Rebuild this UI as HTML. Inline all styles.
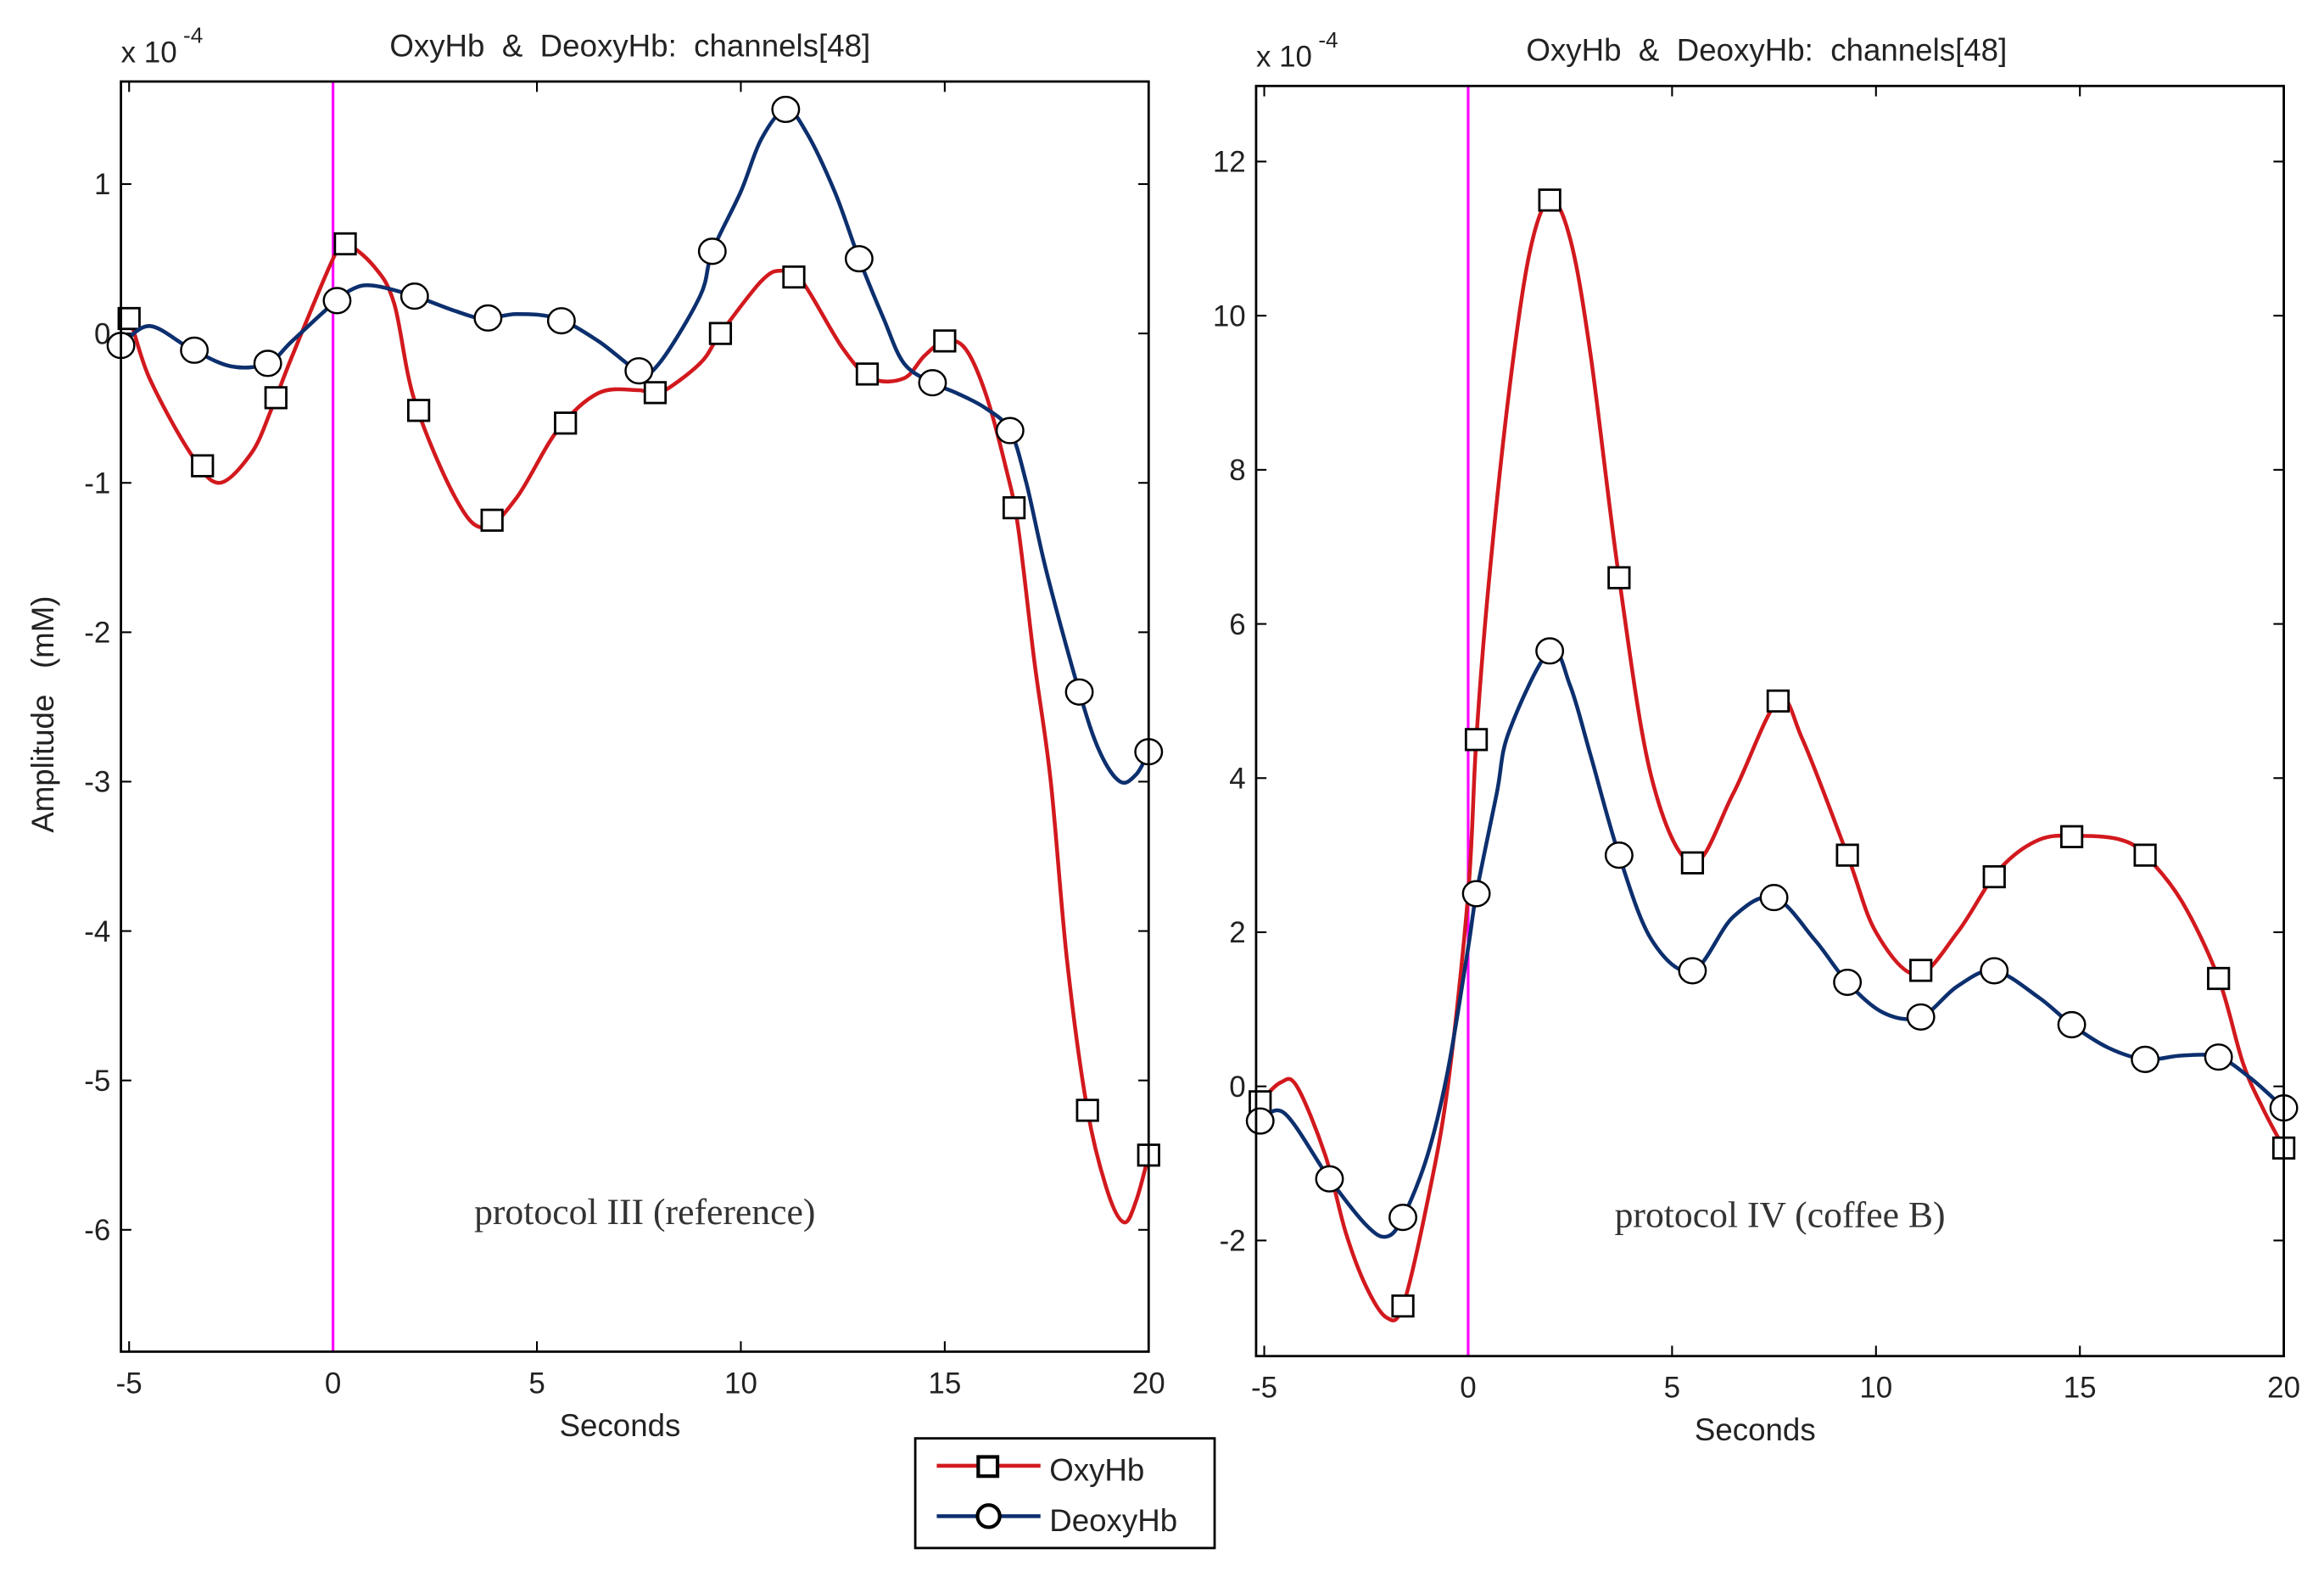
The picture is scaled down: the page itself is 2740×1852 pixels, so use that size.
<!DOCTYPE html>
<html><head><meta charset="utf-8"><style>
html,body{margin:0;padding:0;background:#fff;}
svg{display:block;}
text{font-family:"Liberation Sans",sans-serif;fill:#222;}
.pre{white-space:pre;}
</style></head><body>
<svg id="fig" width="2740" height="1852" viewBox="0 0 1568 1060" xmlns="http://www.w3.org/2000/svg">
<rect width="1568" height="1060" fill="#fff"/>
</svg>
<script>
// ---- data ----
const xTicks = [-5, 0, 5, 10, 15, 20];
const leftYTicks = [1, 0, -1, -2, -3, -4, -5, -6];
const rightYTicks = [12, 10, 8, 6, 4, 2, 0, -2];

const leftOxyX = [-5.2,-5,-4.5,-3.5,-2.8,-2,-1.5,-1,0,0.3,1,1.5,2,3,3.7,4.5,5.5,6.5,7.5,8,9,9.5,10.5,11,11.5,12.5,13.2,14,14.5,15,15.5,16,16.5,16.8,17.2,17.6,18,18.5,19,19.4,19.7,20];
const leftOxyY = [0.05,0.1,-0.3,-0.8,-1.0,-0.8,-0.5,-0.15,0.5,0.6,0.45,0.2,-0.45,-1.1,-1.3,-1.1,-0.65,-0.4,-0.38,-0.4,-0.2,0.0,0.35,0.42,0.35,-0.1,-0.3,-0.3,-0.15,-0.05,-0.1,-0.4,-0.9,-1.3,-2.2,-3.0,-4.2,-5.2,-5.75,-5.95,-5.8,-5.5];
const leftOxyMarkX = [-5,-3.2,-1.4,0.3,2.1,3.9,5.7,7.9,9.5,11.3,13.1,15,16.7,18.5,20];

const leftDeoX = [-5.2,-4.5,-3.5,-2.5,-1.6,-1,0,0.5,1,2,3,3.7,4.5,5.5,6.5,7.5,8,9,9.3,10,10.5,11.1,11.6,12.3,12.9,13.5,14,14.7,15.3,16,16.6,17,17.5,18.3,18.8,19.3,19.7,20];
const leftDeoY = [-0.08,0.05,-0.1,-0.22,-0.2,-0.05,0.2,0.3,0.32,0.25,0.15,0.1,0.13,0.1,-0.05,-0.25,-0.2,0.25,0.55,0.95,1.3,1.5,1.35,0.95,0.5,0.1,-0.2,-0.33,-0.4,-0.5,-0.65,-1.0,-1.6,-2.4,-2.8,-3.0,-2.95,-2.8];
const leftDeoMarkX = [-5.2,-3.4,-1.6,0.1,2,3.8,5.6,7.5,9.3,11.1,12.9,14.7,16.6,18.3,20];

const rightOxyX = [-5.1,-4.6,-4.2,-3.5,-3,-2.5,-2,-1.6,-1,-0.5,0,0.2,0.5,1,1.5,2,2.5,3,3.7,4.5,5.5,6.5,7.6,8.2,9.3,10,11,12,13,14,15,16,16.6,17.5,18.4,19,19.5,20];
const rightOxyY = [-0.2,0.05,0.0,-0.9,-1.9,-2.6,-3.0,-2.85,-1.5,0.0,2.5,4.5,6.5,9,10.8,11.5,11.0,9.5,6.6,4.0,2.9,3.8,5.0,4.5,3.0,2.0,1.45,2.0,2.8,3.2,3.25,3.2,3.0,2.4,1.4,0.3,-0.3,-0.8];
const rightOxyMarkX = [-5.1,-1.6,0.2,2,3.7,5.5,7.6,9.3,11.1,12.9,14.8,16.6,18.4,20];

const rightDeoX = [-5.1,-4.5,-3.4,-2.5,-2,-1.6,-1,-0.5,0,0.2,0.7,1,2,2.5,3,3.7,4.5,5.5,6.5,7.5,8.5,9.3,10.2,11.1,12,12.9,14,14.8,15.7,16.6,17.5,18.4,19.2,20];
const rightDeoY = [-0.45,-0.35,-1.2,-1.8,-1.95,-1.7,-0.9,0.2,1.8,2.5,3.8,4.6,5.65,5.2,4.3,3.0,1.9,1.5,2.2,2.45,1.9,1.35,0.95,0.9,1.3,1.5,1.15,0.8,0.5,0.35,0.4,0.38,0.1,-0.28];
const rightDeoMarkX = [-5.1,-3.4,-1.6,0.2,2,3.7,5.5,7.5,9.3,11.1,12.9,14.8,16.6,18.4,20];

// ---- drawing ----
const NS = "http://www.w3.org/2000/svg";
const svg = document.getElementById('fig');
function mk(tag, attrs, parent, txt){
  const e = document.createElementNS(NS, tag);
  for (const k in attrs) e.setAttribute(k, attrs[k]);
  if (txt !== undefined) e.textContent = txt;
  (parent||svg).appendChild(e);
  return e;
}
function interp(xs, ys, x){
  if (x <= xs[0]) return ys[0];
  for (let i=1;i<xs.length;i++){ if (x<=xs[i]){ const t=(x-xs[i-1])/(xs[i]-xs[i-1]); return ys[i-1]+t*(ys[i]-ys[i-1]); } }
  return ys[ys.length-1];
}
function smoothPath(pts){
  let d = 'M'+pts[0][0]+','+pts[0][1];
  for (let i=0;i<pts.length-1;i++){
    const p0=pts[Math.max(0,i-1)], p1=pts[i], p2=pts[i+1], p3=pts[Math.min(pts.length-1,i+2)];
    const c1=[p1[0]+(p2[0]-p0[0])/6, p1[1]+(p2[1]-p0[1])/6];
    const c2=[p2[0]-(p3[0]-p1[0])/6, p2[1]-(p3[1]-p1[1])/6];
    d += ' C'+c1[0].toFixed(2)+','+c1[1].toFixed(2)+' '+c2[0].toFixed(2)+','+c2[1].toFixed(2)+' '+p2[0].toFixed(2)+','+p2[1].toFixed(2);
  }
  return d;
}

function panel(cfg){
  const g = mk('g', {});
  
  
  const sx = v => cfg.x0 + (v - (-5)) * (cfg.x20 - cfg.x0) / 25;
  const sy = v => cfg.yZero - v * cfg.yUnit;
  const L = sx(cfg.xmin), R = sx(20), T = cfg.top, B = cfg.bottom;
  xTicks.forEach(t => {
    const x = sx(t);
    mk('line', {x1:x,y1:T,x2:x,y2:T+7,stroke:'#000','stroke-width':1.2}, g);
    mk('line', {x1:x,y1:B,x2:x,y2:B-7,stroke:'#000','stroke-width':1.2}, g);
    const lb = mk('text', {x:x, y:B+28, 'font-size':20, 'text-anchor':'middle'}, g, String(t));
    
    
  });
  cfg.yTicks.forEach(t => {
    const y = sy(t);
    mk('line', {x1:L,y1:y,x2:L+7,y2:y,stroke:'#000','stroke-width':1.2}, g);
    mk('line', {x1:R,y1:y,x2:R-7,y2:y,stroke:'#000','stroke-width':1.2}, g);
    const lb = mk('text', {x:L-7, y:y+7, 'font-size':20, 'text-anchor':'end'}, g, String(t));
    
    
  });
  const zl = mk('line', {x1:sx(0),y1:T,x2:sx(0),y2:B,stroke:'#ff00ff','stroke-width':1.8}, g);
  
  
  function series(xs, ys, mx, color, marker, nm){
    const p = mk('path', {d:smoothPath(xs.map((x,i)=>[sx(x), sy(ys[i])])), fill:'none', stroke:color, 'stroke-width':2.6, 'stroke-linejoin':'round'}, g);
    
    
    mx.forEach(x => {
      const cx = sx(x), cy = sy(interp(xs, ys, x));
      let m;
      if (marker==='sq') m = mk('rect', {x:cx-7, y:cy-7, width:14, height:14, fill:'#fff', stroke:'#000', 'stroke-width':1.6}, g);
      else m = mk('ellipse', {cx:cx, cy:cy, rx:9, ry:8.5, fill:'#fff', stroke:'#000', 'stroke-width':1.4}, g);
      
      
    });
  }
  series(cfg.oxyX, cfg.oxyY, cfg.oxyM, '#d2191e', 'sq', 'oxyhb');
  series(cfg.deoX, cfg.deoY, cfg.deoM, '#0c2f6e', 'ci', 'deoxyhb');
  const fr = mk('rect', {x:L, y:T, width:R-L, height:B-T, fill:'none', stroke:'#000', 'stroke-width':1.6}, g);
  
  
  const ti = mk('text', {x:cfg.titleX, y:T-17, 'font-size':21, 'text-anchor':'middle', 'class':'pre'}, g, 'OxyHb  &  DeoxyHb:  channels[48]');
  
  
  const ex = mk('text', {x:L, y:T-13, 'font-size':20}, g, 'x 10');
  
  
  mk('text', {x:L+42, y:T-26, 'font-size':15}, g, '-4');
  const xl = mk('text', {x:(L+R)/2-10, y:B+57, 'font-size':21, 'text-anchor':'middle'}, g, 'Seconds');
  
  
  const an = mk('text', {x:cfg.noteX, y:cfg.noteY, 'font-size':25, 'text-anchor':'middle', style:'font-family:"Liberation Serif",serif;fill:#333'}, g, cfg.note);
  
  
}

panel({name:'left-chart', x0:87, x20:775, xmin:-5.2, yZero:225, yUnit:100.8, top:55, bottom:912,
  yTicks:leftYTicks, titleX:425, note:'protocol III (reference)', noteX:435, noteY:826,
  oxyX:leftOxyX, oxyY:leftOxyY, oxyM:leftOxyMarkX, deoX:leftDeoX, deoY:leftDeoY, deoM:leftDeoMarkX});
panel({name:'right-chart', x0:853, x20:1541, xmin:-5.2, yZero:733, yUnit:52, top:58, bottom:915,
  yTicks:rightYTicks, titleX:1192, note:'protocol IV (coffee B)', noteX:1201, noteY:828,
  oxyX:rightOxyX, oxyY:rightOxyY, oxyM:rightOxyMarkX, deoX:rightDeoX, deoY:rightDeoY, deoM:rightDeoMarkX});

const yt = mk('text', {x:0, y:0, 'font-size':21, 'text-anchor':'middle', transform:'translate(36,482) rotate(-90)', 'class':'pre'}, svg, 'Amplitude   (mM)');



const lg = mk('g', {});


mk('rect', {x:617.5, y:970.5, width:202, height:74, fill:'#fff', stroke:'#000', 'stroke-width':1.6}, lg);
const e1 = mk('g', {}, lg);


mk('line', {x1:632, y1:989, x2:702, y2:989, stroke:'#d2191e', 'stroke-width':2.6}, e1);
mk('rect', {x:660, y:983, width:13, height:13, fill:'#fff', stroke:'#000', 'stroke-width':2.4}, e1);
mk('text', {x:708, y:999, 'font-size':21}, e1, 'OxyHb');
const e2 = mk('g', {}, lg);


mk('line', {x1:632, y1:1023, x2:702, y2:1023, stroke:'#0c2f6e', 'stroke-width':2.6}, e2);
mk('ellipse', {cx:667, cy:1023, rx:7.5, ry:7.5, fill:'#fff', stroke:'#000', 'stroke-width':2.4}, e2);
mk('text', {x:708, y:1033, 'font-size':21}, e2, 'DeoxyHb');
</script>
</body></html>
